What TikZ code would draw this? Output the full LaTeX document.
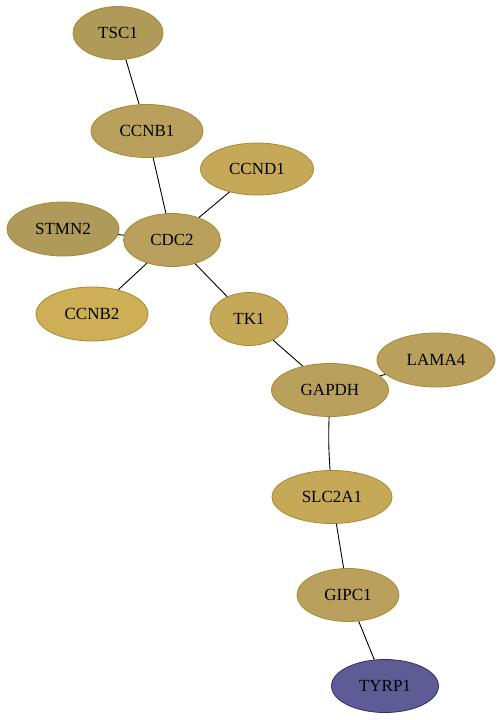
\documentclass[tikz,border=0pt]{standalone}
\usepackage{fontspec}
\setmainfont{Liberation Serif}
\usetikzlibrary{shapes.geometric}
\definecolor{goldA}{RGB}{176,154,90}
\definecolor{goldB}{RGB}{185,160,92}
\definecolor{goldC}{RGB}{197,168,88}
\definecolor{goldD}{RGB}{205,175,85}
\definecolor{goldLine}{RGB}{168,138,50}
\definecolor{tyrpFill}{RGB}{94,92,148}
\definecolor{tyrpLine}{RGB}{45,45,115}
\tikzset{
  gene/.style={ellipse, draw=goldLine, line width=0.8pt, inner sep=0pt, font=\fontsize{17}{20}\selectfont},
  link/.style={draw=black, line width=0.9pt}
}
\begin{document}
\begin{tikzpicture}[x=1pt,y=-1pt]
\useasboundingbox (0,0) rectangle (501,720);
\node[gene, fill=goldA, minimum width=90pt, minimum height=53pt] (TSC1) at (118,33) {TSC1};
\node[gene, fill=goldB, minimum width=112pt, minimum height=53pt] (CCNB1) at (147,131) {CCNB1};
\node[gene, fill=goldC, minimum width=113pt, minimum height=52pt] (CCND1) at (257,169) {CCND1};
\node[gene, fill=goldA, minimum width=112pt, minimum height=54pt] (STMN2) at (63,229) {STMN2};
\node[gene, fill=goldB, minimum width=97pt, minimum height=53pt] (CDC2) at (172,240) {CDC2};
\node[gene, fill=goldD, minimum width=112pt, minimum height=54pt] (CCNB2) at (92,314) {CCNB2};
\node[gene, fill=goldC, minimum width=78pt, minimum height=53pt] (TK1) at (249,319) {TK1};
\node[gene, fill=goldB, minimum width=118pt, minimum height=54pt] (LAMA4) at (436,360) {LAMA4};
\node[gene, fill=goldB, minimum width=117pt, minimum height=53pt] (GAPDH) at (330,390) {GAPDH};
\node[gene, fill=goldC, minimum width=120pt, minimum height=53pt] (SLC2A1) at (332,497) {SLC2A1};
\node[gene, fill=goldB, minimum width=102pt, minimum height=53pt] (GIPC1) at (348,595) {GIPC1};
\node[gene, fill=tyrpFill, draw=tyrpLine, minimum width=107pt, minimum height=53pt] (TYRP1) at (385,686) {TYRP1};
\begin{scope}[on background layer/.style={}]
\end{scope}
\draw[link] (TSC1) -- (CCNB1);
\draw[link] (CCNB1) -- (CDC2);
\draw[link] (CCND1) -- (CDC2);
\draw[link] (STMN2) -- (CDC2);
\draw[link] (CDC2) -- (CCNB2);
\draw[link] (CDC2) -- (TK1);
\draw[link] (TK1) -- (GAPDH);
\draw[link] (LAMA4) -- (GAPDH);
\draw[link] (GAPDH) to[bend right=3] (SLC2A1);
\draw[link] (SLC2A1) -- (GIPC1);
\draw[link] (GIPC1) -- (TYRP1);
\end{tikzpicture}
\end{document}
